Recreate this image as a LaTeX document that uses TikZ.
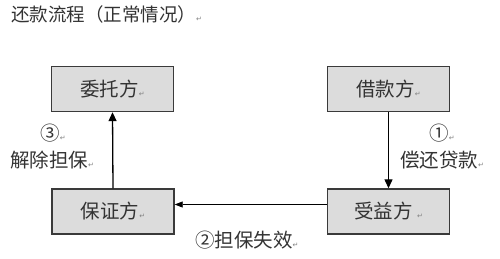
\documentclass[tikz,border=0pt]{standalone}
\usepackage{fontspec}
\setmainfont{Noto Sans CJK SC}
\newfontfamily\markfont{DejaVu Sans}
\usepackage{tikz}
\usetikzlibrary{arrows.meta, positioning}
\definecolor{BoxFill}{HTML}{DCDCDC}
\definecolor{BoxEdge}{HTML}{3A3A3A}
\definecolor{TextGray}{HTML}{333333}
\newcommand{\pmark}{{\markfont\fontsize{7}{7}\selectfont\color{gray}↵}}

\begin{document}
\begin{tikzpicture}[x=1pt, y=-1pt,
  party/.style={draw=BoxEdge, line width=1.4pt, fill=BoxFill, minimum width=122pt, minimum height=45pt, font=\fontsize{19.5}{19.5}\selectfont, text=TextGray},
  note/.style={font=\fontsize{19.5}{19.5}\selectfont, text=TextGray, inner sep=0pt},
  flow/.style={-{Triangle[length=9pt, width=8pt]}, line width=1.3pt, draw=black}
]
\useasboundingbox (0,0) rectangle (500,259);

% Title
\node[note, anchor=west, font=\fontsize{18.5}{18.5}\selectfont] (title) at (11,14) {还款流程（正常情况）\pmark};

% Parties
\foreach \n/\x/\y/\t in {
  trustor/112.5/89/委托方,
  borrower/388.5/89/借款方,
  guarantor/113/211.5/保证方,
  beneficiary/388.5/211.5/受益方
} {
  \node[party] (\n) at (\x,\y) {\t\pmark};
}

% Flows
\draw[flow] (borrower.south) -- (beneficiary.north);
\draw[flow, line width=0.8pt, -{Triangle[length=8pt, width=6pt]}] ([yshift=7pt]beneficiary.west) -- ([yshift=7pt]guarantor.east);
\draw[flow] (guarantor.north) -- (trustor.south);

% Step labels
\node[note] (n1) at (442,133) {①\pmark};
\node[note, anchor=west] (l1) at (400,160) {偿还贷款\pmark};
\node[note, anchor=west] (l2) at (195,240) {②担保失效\pmark};
\node[note] (n3) at (53,133) {③\pmark};
\node[note, anchor=west] (l3) at (10,160) {解除担保\pmark};
\end{tikzpicture}
\end{document}
